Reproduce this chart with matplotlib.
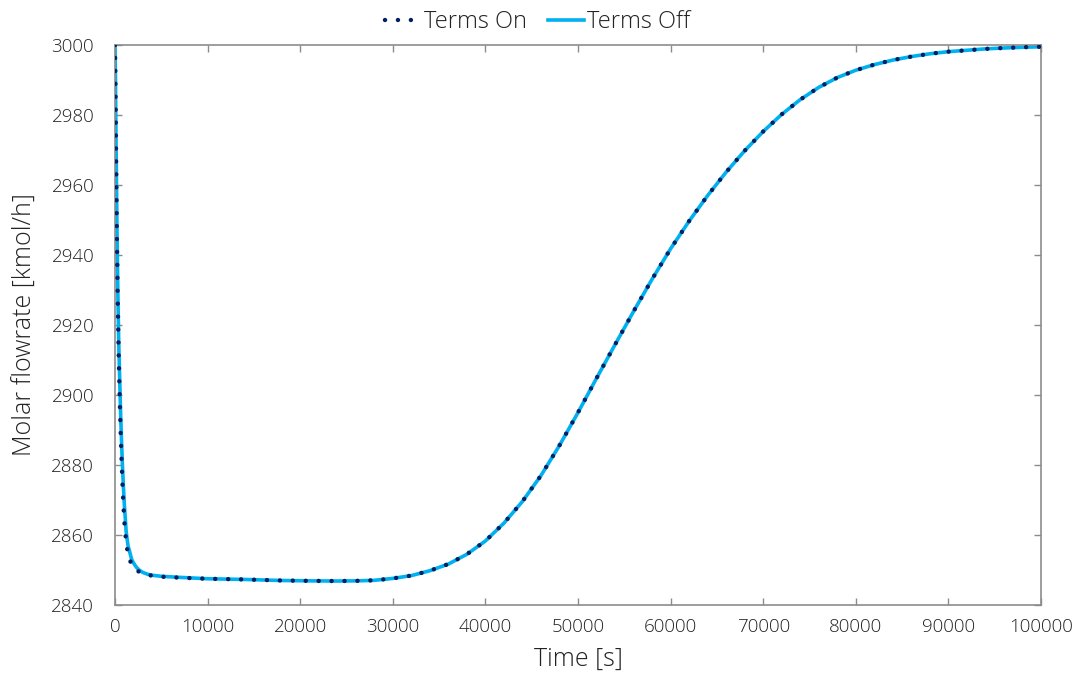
import matplotlib.pyplot as plt


time_s = [0, 50, 100, 200, 300, 400, 500, 600, 700, 800, 900, 1000, 1200, 1400,
          1600, 1800, 2000, 2300, 2600, 3000, 3500, 4000, 5000, 7000, 10000,
          14000, 18000, 21000, 24000, 26000, 28000, 30000, 32000, 34000, 36000,
          38000, 40000, 42000, 44000, 46000, 48000, 50000, 52000, 54000, 56000,
          58000, 60000, 62000, 64000, 66000, 68000, 70000, 72000, 74000, 76000,
          78000, 80000, 82000, 84000, 86000, 88000, 90000, 92000, 94000, 96000,
          98000, 100000]

flow_off = [3000, 2990, 2975, 2950, 2930, 2915, 2905, 2895, 2887, 2880, 2874,
            2869, 2861, 2857, 2855, 2853, 2852, 2850.8, 2850, 2849.3, 2848.8,
            2848.5, 2848.2, 2847.9, 2847.5, 2847.3, 2847.0, 2846.9, 2846.85,
            2846.9, 2847.05, 2847.6, 2848.4, 2849.8, 2851.7, 2854.5, 2858.3,
            2863.4, 2869.6, 2877.0, 2885.6, 2895.0, 2904.8, 2914.4, 2923.9,
            2933.1, 2941.8, 2949.7, 2957.0, 2963.7, 2969.8, 2975.3, 2980.2,
            2984.4, 2987.9, 2990.7, 2992.8, 2994.4, 2995.7, 2996.7, 2997.5,
            2998.1, 2998.5, 2998.9, 2999.15, 2999.35, 2999.5]

flow_on = [3000, 2988, 2972, 2946, 2926, 2911, 2900, 2890, 2882, 2875, 2869,
           2864, 2858, 2854.5, 2852.8, 2851.6, 2850.8, 2850.0, 2849.5, 2849.0,
           2848.6, 2848.4, 2848.1, 2847.8, 2847.5, 2847.3, 2847.0, 2846.9,
           2846.85, 2846.9, 2847.05, 2847.6, 2848.4, 2849.8, 2851.7, 2854.5,
           2858.3, 2863.4, 2869.6, 2877.0, 2885.6, 2895.0, 2904.8, 2914.4,
           2923.9, 2933.1, 2941.8, 2949.7, 2957.0, 2963.7, 2969.8, 2975.3,
           2980.2, 2984.4, 2987.9, 2990.7, 2992.8, 2994.4, 2995.7, 2996.7,
           2997.5, 2998.1, 2998.5, 2998.9, 2999.15, 2999.35, 2999.5]

x_ticks = list(range(0, 100001, 10000))
y_ticks = list(range(2840, 3001, 20))

TEXT = '#222222'
SPINE = '#8c8c8c'

plt.rcParams['font.family'] = ['Open Sans', 'DejaVu Sans']
plt.rcParams['font.weight'] = 'light'
plt.rcParams['axes.labelweight'] = 'light'

fig = plt.figure(figsize=(10.77, 6.82), dpi=100)
ax = fig.add_axes([0.1068, 0.1129, 0.8598, 0.8211])

ax.plot(time_s, flow_off, color='#00b0f0', lw=2.6, label='Terms Off',
        solid_joinstyle='round', zorder=2)
ax.plot(time_s, flow_on, color='#002060', lw=3.2, linestyle=(0, (0.01, 2.9)),
        dash_capstyle='round', label='Terms On', zorder=3)

ax.set_xlim(0, 100000)
ax.set_ylim(2840, 3000)
ax.set_xticks(x_ticks)
ax.set_yticks(y_ticks)
ax.tick_params(direction='in', length=5, width=1, color=SPINE,
               top=True, right=True, labelsize=13.5, labelcolor=TEXT)
ax.tick_params(axis='x', pad=9)
ax.tick_params(axis='y', pad=15)
for s in ax.spines.values():
    s.set_color(SPINE)
    s.set_linewidth(1.2)

ax.set_xlabel('Time [s]', fontsize=18, color=TEXT, labelpad=8)
ax.set_ylabel('Molar flowrate [kmol/h]', fontsize=18, color=TEXT, labelpad=10)

h, l = ax.get_legend_handles_labels()
fig.legend(h[::-1], l[::-1], loc='center', bbox_to_anchor=(0.4995, 0.968),
           ncol=2, frameon=False, fontsize=17, handlelength=1.5,
           handletextpad=0.15, columnspacing=0.9, labelcolor=TEXT)

fig.savefig('out.png', dpi=100)
